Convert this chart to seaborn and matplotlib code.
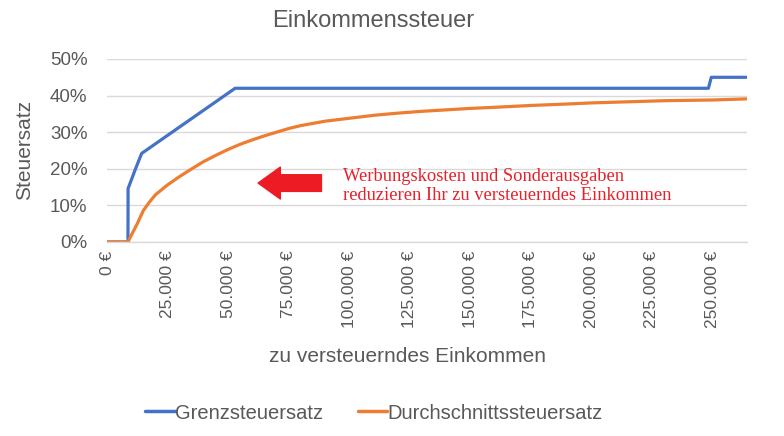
import pandas as pd
import matplotlib
matplotlib.use("Agg")
import matplotlib.pyplot as plt
from matplotlib.ticker import FuncFormatter, MultipleLocator
import seaborn as sns

# =======================
# DATA
# =======================
GRENZ_INCOME = [0, 8650, 8700, 11600, 14300, 52900, 248300, 249500, 264000]
GRENZ_RATE = [0, 0, 14.6, 19.7, 24.2, 42.0, 42.0, 45.0, 45.0]

DURCH_INCOME = [0, 8650, 10000, 12500, 15000, 17500, 20000, 25000, 30000, 35000,
                40000, 45000, 50000, 55000, 60000, 65000, 70000, 75000, 80000,
                90000, 100000, 110000, 120000, 130000, 140000, 150000, 160000,
                175000, 190000, 200000, 215000, 230000, 250000, 264000]
DURCH_RATE = [0, 0, 1.8, 5.0, 8.6, 10.9, 12.9, 15.6, 17.9, 20.0,
              22.0, 23.7, 25.3, 26.7, 27.9, 29.0, 30.0, 31.0, 31.8,
              33.0, 33.8, 34.6, 35.2, 35.7, 36.1, 36.5, 36.8,
              37.3, 37.7, 38.0, 38.3, 38.6, 38.8, 39.1]

SERIES = ["Grenzsteuersatz", "Durchschnittssteuersatz"]
COLORS = ["#4472C4", "#ED7D31"]
TEXT_GREY = "#595959"


def euro(v, _pos):
    return f"{int(round(v)):,} €".replace(",", ".")


def main():
    df = pd.concat([
        pd.DataFrame({"income": GRENZ_INCOME, "rate": GRENZ_RATE, "series": SERIES[0]}),
        pd.DataFrame({"income": DURCH_INCOME, "rate": DURCH_RATE, "series": SERIES[1]}),
    ], ignore_index=True)

    sns.set_style("white")
    plt.rcParams["font.family"] = ["Liberation Sans", "DejaVu Sans"]

    fig, ax = plt.subplots(figsize=(7.84, 4.36), dpi=100)
    fig.subplots_adjust(left=0.1365, right=0.953, bottom=0.445, top=0.8647)

    sns.lineplot(data=df, x="income", y="rate", hue="series", hue_order=SERIES,
                 palette=COLORS, linewidth=2.3, ax=ax, legend=False, sort=False)

    ax.set_xlim(0, 264300)
    ax.set_ylim(0, 50)
    ax.xaxis.set_major_locator(MultipleLocator(25000))
    ax.xaxis.set_major_formatter(FuncFormatter(euro))
    ax.yaxis.set_major_locator(MultipleLocator(10))
    ax.yaxis.set_major_formatter(FuncFormatter(lambda v, p: f"{int(v)}%"))
    ax.tick_params(axis="x", labelrotation=90, labelsize=12.5, colors=TEXT_GREY, length=0, pad=6)
    ax.tick_params(axis="y", labelsize=13.5, colors=TEXT_GREY, length=0, pad=14)
    for lab in ax.get_xticklabels():
        lab.set_verticalalignment("top")

    ax.grid(axis="y", color="#D9D9D9", linewidth=1)
    ax.set_axisbelow(True)
    for side in ["top", "right", "left"]:
        ax.spines[side].set_visible(False)
    ax.spines["bottom"].set_color("#D9D9D9")
    ax.spines["bottom"].set_linewidth(1)

    ax.set_xlabel("zu versteuerndes Einkommen", fontsize=15, color=TEXT_GREY)
    ax.xaxis.set_label_coords(0.47, -0.574)
    ax.set_ylabel("Steuersatz", fontsize=15, color=TEXT_GREY)
    ax.yaxis.set_label_coords(-0.114, 0.5)

    fig.text(373 / 784, 1 - 21 / 436, "Einkommenssteuer", fontsize=17,
             color=TEXT_GREY, ha="center", va="center")

    # annotation: red arrow + note
    ax.annotate("", xy=(0.236, 0.322), xytext=(0.335, 0.322), xycoords="axes fraction",
                arrowprops=dict(arrowstyle="simple,head_length=0.8,head_width=1.15,tail_width=0.6",
                                color="#ED1C24", mutation_scale=20, shrinkA=0, shrinkB=0))
    ax.text(0.368, 0.305, "Werbungskosten und Sonderausgaben\nreduzieren Ihr zu versteuerndes Einkommen",
            transform=ax.transAxes, fontsize=13.3, color="#E8202A",
            family=["Liberation Serif"], ha="left", va="center", linespacing=1.2)

    handles = [plt.Line2D([], [], color=c, linewidth=2.5) for c in COLORS]
    leg = fig.legend(handles, SERIES, loc="center", bbox_to_anchor=(374 / 784, 1 - 413 / 436),
                     ncol=2, frameon=False, fontsize=14.5, handlelength=1.45,
                     handletextpad=0.0, columnspacing=1.75)
    for t in leg.get_texts():
        t.set_color(TEXT_GREY)

    fig.savefig("out.png", dpi=100)
    plt.close(fig)


if __name__ == "__main__":
    main()
